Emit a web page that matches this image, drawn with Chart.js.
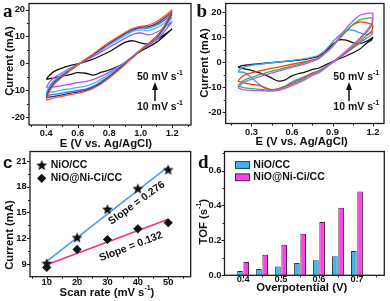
<!DOCTYPE html>
<html><head><meta charset="utf-8">
<script src="https://cdn.jsdelivr.net/npm/chart.js@4.4.1/dist/chart.umd.min.js"></script>
<style>
html,body{margin:0;padding:0;background:#fff;}
body{width:390px;height:301px;position:relative;overflow:hidden;}
canvas{position:absolute;display:block;}
</style></head><body>
<canvas id="ca" width="195" height="150" style="left:0;top:0"></canvas>
<canvas id="cb" width="195" height="150" style="left:195px;top:0"></canvas>
<canvas id="cc" width="195" height="151" style="left:0;top:150px"></canvas>
<canvas id="cd" width="195" height="151" style="left:195px;top:150px"></canvas>
<script>
const FONT='"Liberation Sans", Arial, Helvetica, sans-serif';
const SERIF='"Liberation Serif", "Times New Roman", serif';

// ---------------- Panel a : CV of NiO/CC (E in V, current in mA) ----------------
const aPotUp  =[0.40,0.42,0.45,0.50,0.55,0.60,0.65,0.70,0.80,0.90,0.95,1.00,1.05,1.10,1.15,1.20];
const aPotDown=[1.20,1.15,1.10,1.00,0.90,0.80,0.75,0.70,0.65,0.60,0.55,0.50,0.45,0.40];
const aScanRates=['10','20','25','30','40','50'];
const aUp10  =[-6.0,-4.5,-3.0,-1.8,-0.9,-0.2,0.6,1.6,4.3,7.8,8.4,7.6,7.3,8.8,10.7,12.8];
const aDown10=[12.8,10.2,7.8,4.5,0.2,-2.5,-3.3,-4.4,-3.7,-3.5,-4.2,-4.8,-5.4,-6.0];
const aUp20  =[-9.0,-7.0,-5.3,-3.5,-1.9,-0.4,1.1,2.6,6.0,9.3,10.8,11.3,10.6,11.5,13.3,15.5];
const aDown20=[15.5,11.8,8.8,4.8,0.4,-3.3,-4.8,-6.0,-6.8,-7.2,-7.8,-8.3,-8.8,-9.0];
const aUp25  =[-11.0,-8.5,-6.3,-4.2,-2.3,-0.5,1.3,3.0,6.8,10.3,11.9,12.5,12.2,13.2,15.0,17.2];
const aDown25=[17.2,12.8,9.3,5.0,0.2,-4.0,-5.9,-7.5,-8.5,-9.0,-9.5,-10.0,-10.6,-11.0];
const aUp30  =[-12.0,-9.3,-6.9,-4.6,-2.5,-0.5,1.4,3.3,7.3,10.9,12.4,13.1,13.1,14.2,16.0,18.3];
const aDown30=[18.3,13.3,9.6,5.1,0.0,-4.7,-6.7,-8.5,-9.6,-10.1,-10.6,-11.1,-11.6,-12.0];
const aUp40  =[-12.8,-9.9,-7.4,-4.9,-2.7,-0.6,1.4,3.4,7.5,11.2,12.7,13.5,13.7,14.8,16.8,19.2];
const aDown40=[19.2,13.7,9.8,5.0,-0.3,-5.1,-7.2,-9.0,-10.1,-10.7,-11.2,-11.8,-12.3,-12.8];
const aUp50  =[-13.7,-10.5,-7.8,-5.2,-2.8,-0.6,1.5,3.6,7.8,11.5,13.0,13.8,14.2,15.5,17.5,20.0];
const aDown50=[20.0,14.0,10.0,5.0,-0.5,-5.5,-7.6,-9.3,-10.5,-11.2,-11.7,-12.3,-12.9,-13.7];
const aXTicks=[0.4,0.6,0.8,1.0,1.2];
const aYTicks=[-20,-10,0,10,20];

// ---------------- Panel b : CV of NiO@Ni-Ci/CC ----------------
const bPotUp  =[0.20,0.22,0.25,0.30,0.40,0.50,0.60,0.70,0.75,0.80,0.85,0.90,0.95,1.00,1.05,1.10,1.15,1.20];
const bPotDown=[1.20,1.19,1.15,1.10,1.00,0.90,0.80,0.75,0.70,0.60,0.55,0.50,0.45,0.40,0.35,0.30,0.25,0.20];
const bScanRates=['10','20','30','40','50'];
const bUp10  =[-2.0,-1.5,-1.2,-0.9,-0.4,0.1,0.6,1.2,1.7,2.5,4.5,7.2,8.9,8.8,7.8,7.4,8.3,10.0];
const bDown10=[10.0,9.0,7.5,5.2,2.5,0.3,-2.3,-2.9,-3.8,-5.4,-7.0,-7.5,-6.3,-5.0,-4.0,-3.2,-2.6,-2.0];
const bUp20  =[-3.8,-2.6,-1.8,-1.2,-0.5,0.1,0.7,1.4,2.0,2.9,5.0,8.0,10.8,12.6,12.8,11.8,11.0,12.2];
const bDown20=[12.2,11.0,9.5,7.5,3.6,-0.2,-3.3,-4.3,-5.5,-7.8,-9.5,-10.6,-11.0,-10.4,-8.5,-6.2,-4.2,-3.8];
const bUp30  =[-7.5,-6.2,-5.0,-4.2,-3.0,-1.9,-0.8,0.3,0.9,1.9,3.8,6.3,9.3,12.2,14.8,16.0,15.8,14.8];
const bDown30=[14.8,12.5,10.5,8.2,3.9,-0.1,-3.5,-4.3,-5.8,-8.3,-9.6,-10.5,-10.9,-10.0,-9.2,-8.8,-8.3,-7.5];
const bUp40  =[-9.5,-8.2,-7.0,-6.0,-4.3,-2.9,-1.5,-0.2,0.6,1.7,3.8,6.3,9.5,12.5,15.0,16.8,17.5,17.8];
const bDown40=[17.8,14.5,11.8,9.0,4.3,0.0,-3.8,-4.8,-6.3,-8.8,-10.0,-10.8,-11.2,-11.0,-10.7,-10.5,-10.2,-9.5];
const bUp50  =[-10.3,-9.0,-7.8,-6.8,-5.0,-3.5,-2.0,-0.6,0.3,1.5,3.8,6.5,10.0,13.5,16.3,18.6,19.5,19.6];
const bDown50=[19.6,15.5,12.5,9.5,4.5,0.0,-4.2,-5.2,-6.8,-9.3,-10.4,-11.2,-11.5,-11.4,-11.3,-11.2,-11.0,-10.3];
const bXTicks=[0.3,0.6,0.9,1.2];
const bYTicks=[-20,-10,0,10,20];

// ---------------- Panel c : current vs scan rate ----------------
const cRate=[10,20,30,40,50];
const cNiO =[9.1,12.1,15.4,17.8,20.0];
const cNiCi=[8.6,10.7,11.85,13.1,13.8];
const cFitRate=[10,50];
const cFitNiO =[9.3,20.35];
const cFitNiCi=[8.9,14.2];
const cXTicks=[10,20,30,40,50];
const cYTicks=[9,12,15,18,21];

// ---------------- Panel d : TOF vs overpotential ----------------
const dOver=[0.40,0.45,0.50,0.55,0.60,0.65,0.70];
const dNiO =[0.025,0.036,0.051,0.070,0.086,0.109,0.139];
const dNiCi=[0.076,0.118,0.175,0.238,0.305,0.387,0.480];
const dXTicks=[0.4,0.5,0.6,0.7];
const dYTicks=[0.0,0.2,0.4,0.6];

// ---------------- helpers ----------------
function loopPts(vu,iu,vd,id){
  const p=vu.map((v,k)=>({x:v,y:iu[k]}));
  p.push({x:vu[vu.length-1],y:null});
  vd.forEach((v,k)=>p.push({x:v,y:id[k]}));
  return p;
}
function cv(label,color,pts){
  return {label,data:pts,borderColor:color,borderWidth:1.3,pointRadius:0,showLine:true,tension:0.35,fill:false};
}
function drawParts(ctx,parts,x,y,align,size){
  const main='bold '+size+'px '+FONT, sup='bold '+Math.round(size*0.66)+'px '+FONT;
  let w=0; parts.forEach(p=>{ctx.font=p[1]?sup:main; w+=ctx.measureText(p[0]).width;});
  let cx= align==='center'? x-w/2 : (align==='right'? x-w : x);
  ctx.textBaseline='middle'; ctx.textAlign='left';
  parts.forEach(p=>{ctx.font=p[1]?sup:main; ctx.fillText(p[0],cx,p[1]? y-size*0.4 : y); cx+=ctx.measureText(p[0]).width;});
}
function starCanvas(r,color){
  const c=document.createElement('canvas'); c.width=c.height=Math.ceil(2*r+2);
  const g=c.getContext('2d'); g.fillStyle=color; g.beginPath();
  for(let i=0;i<10;i++){const a=-Math.PI/2+i*Math.PI/5; const rr=i%2?r*0.45:r; g.lineTo(c.width/2+rr*Math.cos(a), c.height/2+rr*Math.sin(a)+0.6);}
  g.closePath(); g.fill(); return c;
}
const STAR=starCanvas(5.6,'#111');

const decoPlugin={id:'deco',afterDraw(chart,args,o){
  const ctx=chart.ctx, ca=chart.chartArea, sx=chart.scales.x, sy=chart.scales.y;
  ctx.save();
  ctx.strokeStyle='#1c1c1c'; ctx.fillStyle='#111';
  ctx.lineWidth=1;
  const tick=(v,len,ax)=>{ctx.beginPath();
    if(ax==='x'){const p=Math.round(sx.getPixelForValue(v))+0.5; ctx.moveTo(p,ca.bottom); ctx.lineTo(p,ca.bottom+len);}
    else {const p=Math.round(sy.getPixelForValue(v))+0.5; ctx.moveTo(ca.left,p); ctx.lineTo(ca.left-len,p);}
    ctx.stroke();};
  sx.ticks.forEach(t=>tick(t.value,3,'x')); (o.xMinor||[]).forEach(v=>tick(v,2,'x'));
  sy.ticks.forEach(t=>tick(t.value,3,'y')); (o.yMinor||[]).forEach(v=>tick(v,2,'y'));
  ctx.lineWidth=1.3; ctx.strokeRect(ca.left,ca.top,ca.width,ca.height);
  ctx.font='bold '+o.letter.size+'px '+(o.letter.serif?SERIF:FONT); ctx.textAlign='left'; ctx.textBaseline='alphabetic';
  ctx.fillText(o.letter.t,o.letter.x,o.letter.y);
  drawParts(ctx,o.xTitle.parts,o.xTitle.x,o.xTitle.y,'center',11.3);
  ctx.save(); ctx.translate(o.yTitle.x,o.yTitle.y); ctx.rotate(-Math.PI/2);
  drawParts(ctx,o.yTitle.parts,0,0,'center',11.3); ctx.restore();
  (o.notes||[]).forEach(n=>{ctx.save(); ctx.translate(n.x,n.y); ctx.rotate((n.rot||0)*Math.PI/180);
    drawParts(ctx,n.parts,0,0,n.align||'left',n.size||10.5); ctx.restore();});
  if(o.arrow){const a=o.arrow; ctx.lineWidth=1.6; ctx.beginPath(); ctx.moveTo(a.x,a.y2); ctx.lineTo(a.x,a.y1+5); ctx.stroke();
    ctx.beginPath(); ctx.moveTo(a.x,a.y1); ctx.lineTo(a.x-3,a.y1+8); ctx.lineTo(a.x+3,a.y1+8); ctx.closePath(); ctx.fill();}
  (o.legend||[]).forEach(l=>{
    const ds=chart.data.datasets[l.ds];
    if(l.kind==='rect'){ctx.fillStyle=ds.backgroundColor; ctx.fillRect(l.x,l.y-3.4,15,6.8);
      ctx.lineWidth=1; ctx.strokeStyle=ds.borderColor; ctx.strokeRect(l.x+0.5,l.y-3.4,14,6.8); ctx.fillStyle='#111';}
    else if(ds.pointStyle==='rectRot'){ctx.fillStyle='#111'; ctx.beginPath(); ctx.moveTo(l.x,l.y-4.6); ctx.lineTo(l.x+4.6,l.y); ctx.lineTo(l.x,l.y+4.6); ctx.lineTo(l.x-4.6,l.y); ctx.closePath(); ctx.fill();}
    else { ctx.drawImage(ds.pointStyle,l.x-ds.pointStyle.width/2,l.y-ds.pointStyle.height/2); }
    ctx.fillStyle='#111'; drawParts(ctx,[[l.text]],l.tx,l.y,'left',10.5);
  });
  ctx.restore();
}};

function axis(a,dir,size){
  return {type:'linear',position:dir==='x'?'bottom':'left',min:a.min,max:a.max,offset:false,
    grid:{display:false,drawTicks:false,tickLength:0},border:{display:false},
    ticks:{autoSkip:false,maxRotation:0,minRotation:0,color:'#111',
      font:{family:FONT,size:9.3,weight:'bold'},padding:a.pad,callback:v=>a.fmt(v)},
    afterBuildTicks:s=>{s.ticks=a.ticks.map(v=>({value:v}));},
    afterFit:s=>{if(dir==='x')s.height=size; else s.width=size; s.paddingLeft=0; s.paddingRight=0; s.paddingTop=0; s.paddingBottom=0;}
  };
}
function mk(id,type,datasets,cfg){
  const cv=document.getElementById(id); const W=cv.width,H=cv.height;
  const A=cfg.area;
  return new Chart(cv,{type,data:{datasets},
    options:{responsive:false,animation:false,events:[],devicePixelRatio:1,
      layout:{autoPadding:false,padding:{left:0,top:A[1],right:W-A[2],bottom:0}},
      plugins:{legend:{display:false},tooltip:{enabled:false},deco:cfg.deco},
      scales:{x:axis(cfg.x,'x',H-A[3]),y:axis(cfg.y,'y',A[0])}},
    plugins:[decoPlugin]});
}
const f1=v=>v.toFixed(1), f0=v=>String(Math.round(v));
const scanNote=(x,y1,y2)=>[{parts:[['50 mV s'],['-1',1]],x:x,y:y1},{parts:[['10 mV s'],['-1',1]],x:x,y:y2}];

// ---------- panel a ----------
mk('ca','scatter',[
  cv(aScanRates[5],'#ff5a22',loopPts(aPotUp,aUp50,aPotDown,aDown50)),
  cv(aScanRates[4],'#23308f',loopPts(aPotUp,aUp40,aPotDown,aDown40)),
  cv(aScanRates[3],'#2f7fe6',loopPts(aPotUp,aUp30,aPotDown,aDown30)),
  cv(aScanRates[2],'#45b8f5',loopPts(aPotUp,aUp25,aPotDown,aDown25)),
  cv(aScanRates[1],'#b84ff0',loopPts(aPotUp,aUp20,aPotDown,aDown20)),
  cv(aScanRates[0],'#111111',loopPts(aPotUp,aUp10,aPotDown,aDown10))
],{area:[29,3.5,191,125],
  x:{min:0.29,max:1.32,ticks:aXTicks,fmt:f1,pad:3},y:{min:-23,max:22.3,ticks:aYTicks,fmt:f0,pad:4},
  deco:{letter:{t:'a',x:3,y:17,size:19,serif:true},
    xTitle:{parts:[['E (V vs. Ag/AgCl)']],x:106,y:144},yTitle:{parts:[['Current (mA)']],x:9.5,y:61},
    xMinor:[0.3,0.5,0.7,0.9,1.1,1.3],yMinor:[-15,-5,5,15],
    notes:scanNote(137,77,107),arrow:{x:155,y1:82,y2:101}}});

// ---------- panel b ----------
mk('cb','scatter',[
  cv(bScanRates[4],'#c455ee',loopPts(bPotUp,bUp50,bPotDown,bDown50)),
  cv(bScanRates[3],'#2db84a',loopPts(bPotUp,bUp40,bPotDown,bDown40)),
  cv(bScanRates[2],'#ff3a14',loopPts(bPotUp,bUp30,bPotDown,bDown30)),
  cv(bScanRates[1],'#3d9cf0',loopPts(bPotUp,bUp20,bPotDown,bDown20)),
  cv(bScanRates[0],'#111111',loopPts(bPotUp,bUp10,bPotDown,bDown10))
],{area:[30.7,3.5,189,123.5],
  x:{min:0.109,max:1.281,ticks:bXTicks,fmt:f1,pad:3.5},y:{min:-24.4,max:23.4,ticks:bYTicks,fmt:f0,pad:4},
  deco:{letter:{t:'b',x:1.5,y:17,size:19,serif:true},
    xTitle:{parts:[['E (V vs. Ag/AgCl)']],x:106.7,y:142},yTitle:{parts:[['Current (mA)']],x:9.5,y:63},
    xMinor:[0.15,0.45,0.75,1.05],yMinor:[-15,-5,5,15],
    notes:scanNote(138.3,77,107),arrow:{x:154,y1:82,y2:101}}});

// ---------- panel c ----------
mk('cc','scatter',[
  {label:'NiO/CC',data:cRate.map((x,k)=>({x,y:cNiO[k]})),pointStyle:STAR,pointRadius:5.6,backgroundColor:'#111',borderWidth:0,showLine:false,order:0},
  {label:'NiO@Ni-Ci/CC',data:cRate.map((x,k)=>({x,y:cNiCi[k]})),pointStyle:'rectRot',pointRadius:4.6,backgroundColor:'#111',borderColor:'#111',borderWidth:0,showLine:false,order:1},
  {label:'fit NiO/CC',data:cFitRate.map((x,k)=>({x,y:cFitNiO[k]})),borderColor:'#4a9be8',borderWidth:1.6,pointRadius:0,showLine:true,order:2},
  {label:'fit NiO@Ni-Ci/CC',data:cFitRate.map((x,k)=>({x,y:cFitNiCi[k]})),borderColor:'#f2317f',borderWidth:1.6,pointRadius:0,showLine:true,order:3}
],{area:[30,1.5,190.7,126.7],
  x:{min:4.5,max:57.4,ticks:cXTicks,fmt:f0,pad:0},y:{min:7.52,max:22.1,ticks:cYTicks,fmt:f0,pad:3.3},
  deco:{letter:{t:'c',x:3,y:18,size:17,serif:false},
    xTitle:{parts:[['Scan rate (mV s'],['-1',1],[')']],x:107,y:143},yTitle:{parts:[['Current (mA)']],x:9.5,y:85},
    xMinor:[5,15,25,35,45,55],yMinor:[10.5,13.5,16.5,19.5],
    notes:[{parts:[['Slope = 0.276']],x:136.7,y:53,rot:-36,align:'center'},{parts:[['Slope = 0.132']],x:131,y:96.7,rot:-21,align:'center'}],
    legend:[{ds:0,x:41.7,y:15,tx:50.7,text:'NiO/CC'},{ds:1,x:41.7,y:28.3,tx:50.7,text:'NiO@Ni-Ci/CC'}]}});

// ---------- panel d ----------
mk('cd','bar',[
  {label:'NiO/CC',data:dOver.map((x,k)=>({x,y:dNiO[k]})),backgroundColor:'#3fb6ea',borderColor:'#1f3f55',borderWidth:1,categoryPercentage:0.66,barPercentage:0.9},
  {label:'NiO@Ni-Ci/CC',data:dOver.map((x,k)=>({x,y:dNiCi[k]})),backgroundColor:'#ff40ea',borderColor:'#4a1f48',borderWidth:1,categoryPercentage:0.66,barPercentage:0.9}
],{area:[29.5,1.5,189.3,125.3],
  x:{min:0.351,max:0.772,ticks:dXTicks,fmt:f1,pad:-1},y:{min:0,max:0.709,ticks:dYTicks,fmt:f1,pad:3},
  deco:{letter:{t:'d',x:3,y:18,size:19,serif:true},
    xTitle:{parts:[['Overpotential (V)']],x:106.7,y:137.5},yTitle:{parts:[['TOF (s'],['-1',1],[')']],x:9,y:71.7},
    xMinor:[0.45,0.55,0.65,0.75],yMinor:[0.1,0.3,0.5,0.7],
    legend:[{ds:0,kind:'rect',x:40,y:15,tx:58.3,text:'NiO/CC'},{ds:1,kind:'rect',x:40,y:27.3,tx:58.3,text:'NiO@Ni-Ci/CC'}]}});
</script></body></html>
